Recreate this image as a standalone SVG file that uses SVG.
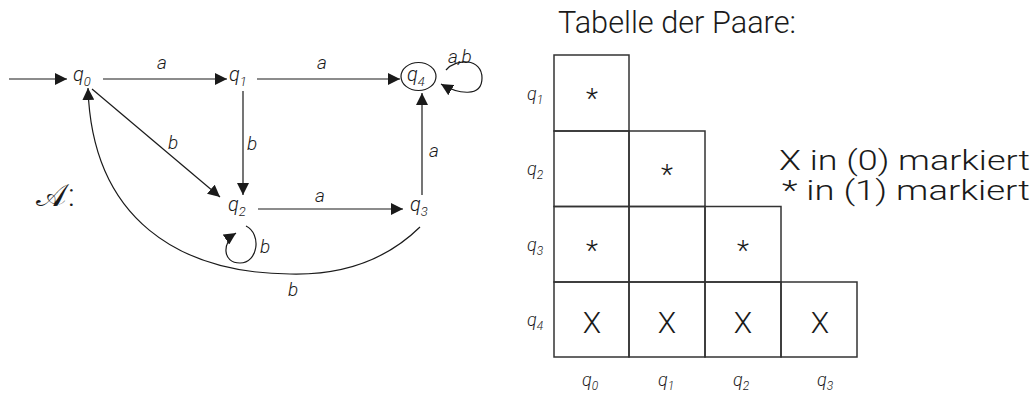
<svg xmlns="http://www.w3.org/2000/svg" width="1036" height="396" viewBox="0 0 1036 396">
<style>
text{font-family:"Roboto","Liberation Sans",sans-serif;font-weight:300;fill:#1a1a1a}
.q{font-style:italic;font-size:20px}
.sub{font-size:13px}
.lbl{font-style:italic;font-size:19px}
.edge{fill:none;stroke:#1a1a1a;stroke-width:1.2}
.cell{fill:none;stroke:#333;stroke-width:1.5}
.tq{font-style:italic;font-size:18px}
.tsub{font-size:12px}
.star{font-size:28px;text-anchor:middle}
.x{font-size:30px;text-anchor:middle}
.big{font-size:31px}
.note{font-size:28.5px}
</style>
<defs>
<marker id="ah" markerUnits="userSpaceOnUse" markerWidth="14" markerHeight="12" refX="12" refY="6" orient="auto">
<path d="M0,0 L12,6 L0,12 Z" fill="#1a1a1a"/>
</marker>
</defs>
<g id="connectors">
<path class="edge" d="M9,79 L67,79" marker-end="url(#ah)"/>
<path class="edge" d="M103,79 L227,79" marker-end="url(#ah)"/>
<path class="edge" d="M257,79 L400,79" marker-end="url(#ah)"/>
<path class="edge" d="M243,91 L243,195" marker-end="url(#ah)"/>
<path class="edge" d="M92,89 L220,197" marker-end="url(#ah)"/>
<path class="edge" d="M258,209 L403,209" marker-end="url(#ah)"/>
<path class="edge" d="M422,195 L422,93" marker-end="url(#ah)"/>
<path class="edge" d="M420,227 Q370,276 290,274 C180,273 92,220 88,88" marker-end="url(#ah)"/>
<path class="edge" d="M246,226 C262,234 258,263 240,263 C222,263 222,242 236,233" marker-end="url(#ah)"/>
<path class="edge" d="M446,70 C456,58 482,58 482,78 C482,98 458,94 441,84" marker-end="url(#ah)"/>
<text class="lbl" x="157" y="69">a</text>
<text class="lbl" x="317" y="69">a</text>
<text class="lbl" x="247" y="150">b</text>
<text class="lbl" x="168" y="149">b</text>
<text class="lbl" x="315" y="202">a</text>
<text class="lbl" x="429" y="157">a</text>
<text class="lbl" x="260" y="253">b</text>
<text class="lbl" x="288" y="296">b</text>
<text class="lbl" x="448" y="63">a,b</text>
</g>
<g id="q0"><text class="q" x="73" y="81">q<tspan class="sub" dy="5">0</tspan></text></g>
<g id="q1"><text class="q" x="229" y="81">q<tspan class="sub" dy="5">1</tspan></text></g>
<g id="q2"><text class="q" x="228" y="211">q<tspan class="sub" dy="5">2</tspan></text></g>
<g id="q3"><text class="q" x="410" y="211">q<tspan class="sub" dy="5">3</tspan></text></g>
<g id="q4"><ellipse cx="418.5" cy="76.5" rx="17.5" ry="14" fill="none" stroke="#1a1a1a" stroke-width="1.2"/><text class="q" x="407" y="81">q<tspan class="sub" dy="5">4</tspan></text></g>
<text x="36" y="206" style="font-family:'DejaVu Serif',serif;font-size:32px;font-weight:normal">𝒜<tspan style="font-family:Roboto,sans-serif;font-weight:300" dx="2">:</tspan></text>
<g id="table">
<text class="big" x="558" y="33" textLength="238" lengthAdjust="spacingAndGlyphs">Tabelle der Paare:</text>
<rect class="cell" x="554" y="55" width="75" height="76"/>
<rect class="cell" x="554" y="131" width="75" height="75.5"/>
<rect class="cell" x="629" y="131" width="76" height="75.5"/>
<rect class="cell" x="554" y="206.5" width="75" height="75.5"/>
<rect class="cell" x="629" y="206.5" width="76" height="75.5"/>
<rect class="cell" x="705" y="206.5" width="76" height="75.5"/>
<rect class="cell" x="554" y="282" width="75" height="75"/>
<rect class="cell" x="629" y="282" width="76" height="75"/>
<rect class="cell" x="705" y="282" width="76" height="75"/>
<rect class="cell" x="781" y="282" width="76" height="75"/>
<text class="star" x="592" y="108">*</text>
<text class="star" x="667" y="184">*</text>
<text class="star" x="592" y="260">*</text>
<text class="star" x="743" y="260">*</text>
<text class="x" x="592" y="333">X</text>
<text class="x" x="667" y="333">X</text>
<text class="x" x="743" y="333">X</text>
<text class="x" x="820" y="333">X</text>
<text class="tq" x="527" y="100">q<tspan class="tsub" dy="4">1</tspan></text>
<text class="tq" x="527" y="175">q<tspan class="tsub" dy="4">2</tspan></text>
<text class="tq" x="527" y="251">q<tspan class="tsub" dy="4">3</tspan></text>
<text class="tq" x="527" y="326">q<tspan class="tsub" dy="4">4</tspan></text>
<text class="tq" x="582" y="386">q<tspan class="tsub" dy="4">0</tspan></text>
<text class="tq" x="658" y="386">q<tspan class="tsub" dy="4">1</tspan></text>
<text class="tq" x="733" y="386">q<tspan class="tsub" dy="4">2</tspan></text>
<text class="tq" x="817" y="386">q<tspan class="tsub" dy="4">3</tspan></text>
<text class="note" x="779" y="170" textLength="251" lengthAdjust="spacingAndGlyphs">X in (0) markiert</text>
<text class="note" x="782" y="200" textLength="248" lengthAdjust="spacingAndGlyphs">* in (1) markiert</text>
</g>
</svg>
